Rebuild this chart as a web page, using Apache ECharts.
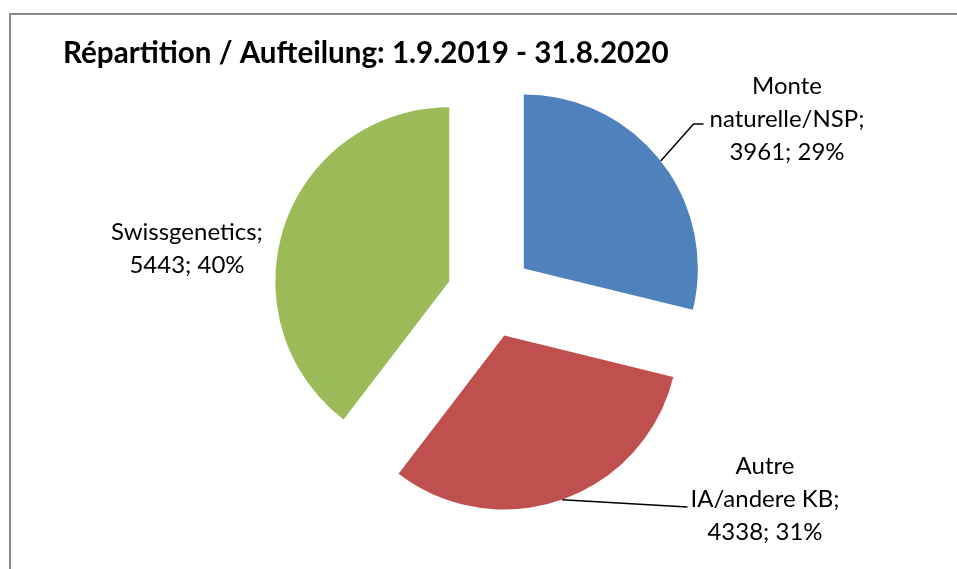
<!DOCTYPE html>
<html><head><meta charset="utf-8">
<script src="https://cdn.jsdelivr.net/npm/echarts@6/dist/echarts.min.js"></script>
<style>html,body{margin:0;padding:0;background:#fff}#c{width:957px;height:569px}</style>
</head><body><div id="c"></div>
<script>
const titleText = 'Répartition / Aufteilung: 1.9.2019 - 31.8.2020';
const categories = ['Monte\nnaturelle/NSP', 'Autre\nIA/andere KB', 'Swissgenetics'];
const values = [3961, 4338, 5443];
const colors = ['#4F81BD', '#C0504D', '#9BBB59'];
// label anchor (text block centre) for each slice
const labelPos = [[787, 119], [765, 499], [187, 249]];

const FONT = 'Lato, "Open Sans", sans-serif';
const baseCenter = [490, 295];
const explode = 43;
const total = values.reduce((a, b) => a + b, 0);

// each slice is drawn by its own pie series, pulled out along its bisector
const series = values.map((v, k) => {
  const before = values.slice(0, k).reduce((a, b) => a + b, 0);
  const mid = (before + v / 2) / total * 2 * Math.PI;
  const center = [baseCenter[0] + explode * Math.sin(mid), baseCenter[1] - explode * Math.cos(mid)];
  return {
    type: 'pie',
    center: center,
    radius: [0, 174],
    startAngle: 90,
    clockwise: true,
    percentPrecision: 0,
    avoidLabelOverlap: false,
    silent: true,
    label: {
      show: false, position: 'outside',
      fontFamily: FONT, fontSize: 24, color: '#000', lineHeight: 33,
      align: 'center',
      formatter: p => p.name + ';\n' + p.value + '; ' + p.percent + '%'
    },
    labelLine: {show: false, length: 20, length2: 10, lineStyle: {color: '#000', width: 1.5}},
    labelLayout: function (params) {
      const i = params.dataIndex;
      if (i !== k) return {};
      const r = params.labelRect;
      const pos = labelPos[i];
      const out = {x: pos[0], y: pos[1], align: 'center', verticalAlign: 'middle'};
      const pts = params.labelLinePoints;
      if (pts && i !== 2) {
        const left = pos[0] - r.width / 2;
        if (i === 0) {
          const p2 = [left - 6, pos[1] + 5];
          out.labelLinePoints = [pts[0], [p2[0] - 10, p2[1]], p2];
        } else {
          const p2 = [left - 3, pos[1] + 8];
          out.labelLinePoints = [pts[0], p2, p2];
        }
      }
      return out;
    },
    data: categories.map((c, i) => ({
      name: c, value: values[i],
      itemStyle: {color: i === k ? colors[i] : 'rgba(0,0,0,0)'},
      label: {show: i === k},
      labelLine: {show: i === k && i !== 2}
    }))
  };
});

const chart = echarts.init(document.getElementById('c'), null, {renderer: 'canvas'});
chart.setOption({
  animation: false,
  backgroundColor: '#fff',
  title: {
    text: titleText, left: 58, top: 33,
    textStyle: {fontFamily: FONT, fontWeight: 'bold', fontSize: 29.6, color: '#000'}
  },
  graphic: [{
    type: 'polyline', silent: true,
    shape: {points: [[10, 580], [10, 14], [960, 14]]},
    style: {stroke: '#8a8a8a', lineWidth: 2, fill: null}
  }],
  series: series
});
</script>
</body></html>
